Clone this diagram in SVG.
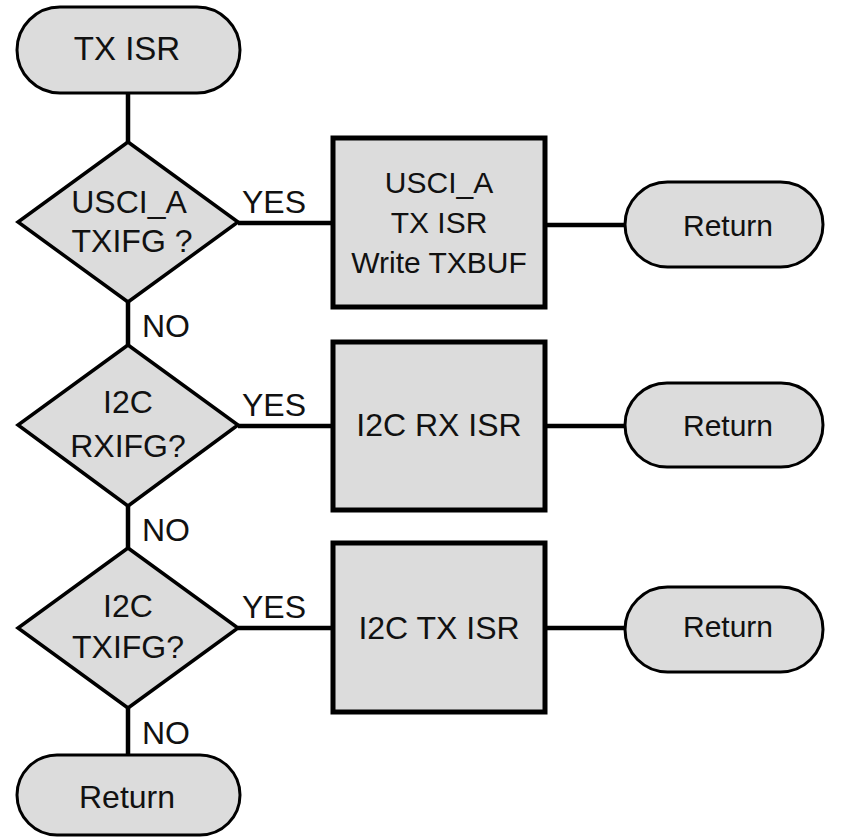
<svg xmlns="http://www.w3.org/2000/svg" width="853" height="837" viewBox="0 0 853 837">
<style>
.term{fill:#dcdcdc;stroke:#000;stroke-width:3}
.dec{fill:#dcdcdc;stroke:#000;stroke-width:3.5}
.proc{fill:#dcdcdc;stroke:#000;stroke-width:5}
.conn{stroke:#000;stroke-width:4.5;fill:none}
text{font-family:"Liberation Sans",Arial,sans-serif;fill:#111;text-anchor:middle}
.t32{font-size:32px}
.t30{font-size:30px}
.lbl{font-size:32px;text-anchor:start}
</style>
<rect width="853" height="837" fill="#fff"/>
<g id="connectors">
<line class="conn" x1="128" y1="93" x2="128" y2="142"/>
<line class="conn" x1="128" y1="302" x2="128" y2="345"/>
<line class="conn" x1="128" y1="506" x2="128" y2="548"/>
<line class="conn" x1="128" y1="708" x2="128" y2="755"/>
<line class="conn" x1="238" y1="223" x2="333" y2="223"/>
<line class="conn" x1="238" y1="426" x2="333" y2="426"/>
<line class="conn" x1="238" y1="628" x2="333" y2="628"/>
<line class="conn" x1="545" y1="225" x2="625" y2="225"/>
<line class="conn" x1="545" y1="426" x2="625" y2="426"/>
<line class="conn" x1="545" y1="628" x2="625" y2="628"/>
<text class="lbl" x="242" y="213">YES</text>
<text class="lbl" x="242" y="416">YES</text>
<text class="lbl" x="242" y="618">YES</text>
<text class="lbl" x="142" y="337">NO</text>
<text class="lbl" x="142" y="541">NO</text>
<text class="lbl" x="142" y="744">NO</text>
</g>
<g id="start">
<rect class="term" x="17" y="7" width="223" height="86" rx="43"/>
<text x="127" y="60" style="font-size:33px">TX ISR</text>
</g>
<g id="dec1">
<polygon class="dec" points="128,142 238,222 128,302 18,222"/>
<text class="t32" x="129" y="213">USCI_A</text>
<text class="t32" x="132" y="252">TXIFG ?</text>
</g>
<g id="proc1">
<rect class="proc" x="333" y="138" width="212" height="169"/>
<text class="t30" x="439" y="193">USCI_A</text>
<text class="t30" x="439" y="233">TX ISR</text>
<text class="t30" x="439" y="273">Write TXBUF</text>
</g>
<g id="ret1">
<rect class="term" x="625" y="182" width="198" height="85" rx="42.5"/>
<text class="t30" x="728" y="236">Return</text>
</g>
<g id="dec2">
<polygon class="dec" points="128,345 238,425 128,506 18,425"/>
<text class="t32" x="128" y="413">I2C</text>
<text class="t32" x="128" y="457">RXIFG?</text>
</g>
<g id="proc2">
<rect class="proc" x="333" y="342" width="212" height="168"/>
<text class="t32" x="439" y="436">I2C RX ISR</text>
</g>
<g id="ret2">
<rect class="term" x="625" y="383" width="198" height="84" rx="42"/>
<text class="t30" x="728" y="436">Return</text>
</g>
<g id="dec3">
<polygon class="dec" points="128,548 238,628 128,708 18,628"/>
<text class="t32" x="128" y="617">I2C</text>
<text class="t32" x="128" y="658">TXIFG?</text>
</g>
<g id="proc3">
<rect class="proc" x="333" y="543" width="212" height="169"/>
<text class="t32" x="439" y="639">I2C TX ISR</text>
</g>
<g id="ret3">
<rect class="term" x="625" y="587" width="198" height="85" rx="42.5"/>
<text class="t30" x="728" y="637">Return</text>
</g>
<g id="end">
<rect class="term" x="17" y="755" width="223" height="80" rx="40"/>
<text class="t32" x="127" y="808">Return</text>
</g>
</svg>
